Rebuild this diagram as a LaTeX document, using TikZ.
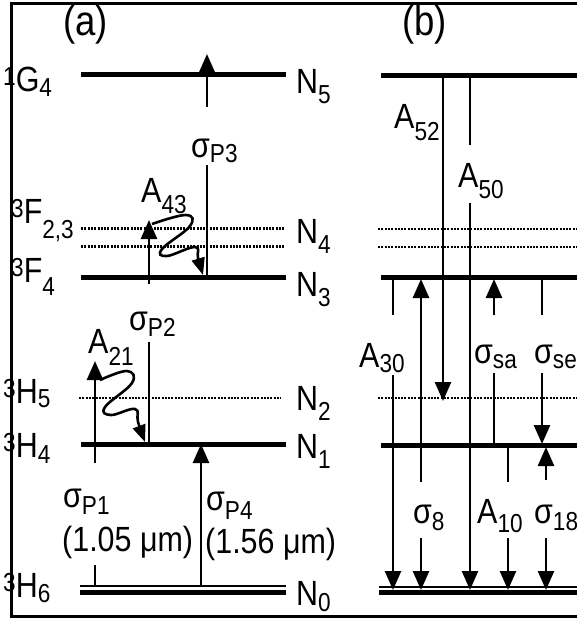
\documentclass[tikz,border=0pt]{standalone}
\usepackage{fontspec}
\setmainfont{Liberation Sans}[FakeStretch=0.87]
\usetikzlibrary{arrows.meta}
\newcommand{\hi}[1]{\raisebox{6pt}{\fontsize{26}{26}\selectfont #1}}
\newcommand{\lo}[2][6pt]{\raisebox{-#1}{\fontsize{26}{26}\selectfont #2}}

\begin{document}
\begin{tikzpicture}[x=1pt, y=-1pt,
  level/.style={line width=5pt},
  sublevel/.style={line width=2.4pt, dash pattern=on 2pt off 1.3pt},
  thinlevel/.style={line width=2pt},
  frame/.style={line width=3pt},
  trans/.style={line width=2.6pt},
  arrow/.style={trans, -{Triangle[length=19pt, width=16pt]}},
  wave/.style={line width=2.6pt, -{Triangle[length=17pt, width=13pt]}},
  lbl/.style={anchor=base west, inner sep=0pt, font=\fontsize{35}{40}\selectfont},
  panel/.style={lbl, font=\fontsize{42}{46}\selectfont},
]
  \useasboundingbox (0,0) rectangle (577,619);
  \clip (0,0) rectangle (577,619);
  \draw[frame] (600,3.5) -| (11.5,616.5) -- (600,616.5);

  \draw[level] (81,74.5) -- (286,74.5);
  \draw[sublevel] (81,228.5) -- (284,228.5);
  \draw[sublevel] (81,246.5) -- (284,246.5);
  \draw[level] (81,277) -- (286,277);
  \draw[sublevel] (79,398) -- (281,398);
  \draw[level] (81,444.5) -- (286,444.5);
  \draw[thinlevel] (80,586) -- (286,586);
  \draw[level] (80,592) -- (286,592);

  \draw[level] (381,75.5) -- (600,75.5);
  \draw[sublevel] (378,229) -- (600,229);
  \draw[sublevel] (378,247) -- (600,247);
  \draw[level] (381,277.5) -- (600,277.5);
  \draw[sublevel] (378,398) -- (600,398);
  \draw[level] (381,445.5) -- (600,445.5);
  \draw[thinlevel] (379,586.5) -- (600,586.5);
  \draw[level] (379,592.5) -- (600,592.5);

  \foreach \n/\x/\y in {p3a/207/277, p3b/207/165, p3c/207/107, p3d/207/54,
      t43a/149/284, t43b/149/220, w43a/152/224, w43b/203/275,
      p2a/149/342, p2b/149/444, t21a/95/463, t21b/95/361,
      w21a/100/380, w21b/145/442, p1a/95/565, p1b/95/587,
      p4a/201/587, p4b/201/444}
    \coordinate (\n) at (\x,\y);
  \foreach \n/\x/\y in {t30a/393/277, t30b/393/315, t30c/393/375, t30d/393/590,
      s8a/421/482, s8b/421/279, s8c/421/538, s8d/421/590,
      t52a/443/76, t52b/443/401,
      t50a/470/76, t50b/470/145, t50c/470/203, t50d/470/590,
      saa/494/315, sab/494/279, sac/494/373, sad/494/444,
      sea/542/277, seb/542/315, sec/542/373, sed/542/444,
      t10a/508/444, t10b/508/482, t10c/508/538, t10d/508/590,
      s18a/546/480, s18b/546/447, s18c/546/538, s18d/546/590}
    \coordinate (\n) at (\x,\y);

  \node[panel] (pa) at (63,35) {(a)};
  \node[panel] (pb) at (402,35) {(b)};

  \node[lbl] (G4) at (3,91) {\hi{1}G\lo[5pt]{4}};
  \node[lbl] (F23) at (11,223) {\hi{3}F\lo[15pt]{2,3}};
  \node[lbl] (F4) at (11,282) {\hi{3}F\lo[13pt]{4}};
  \node[lbl] (H5) at (3,403) {\hi{3}H\lo[4pt]{5}};
  \node[lbl] (H4) at (3,457) {\hi{3}H\lo[6pt]{4}};
  \node[lbl] (H6) at (3,597) {\hi{3}H\lo[5pt]{6}};

  \node[lbl] (N5) at (296,93) {N\lo[10pt]{5}};
  \node[lbl] (N4) at (296,243) {N\lo[10pt]{4}};
  \node[lbl] (N3) at (296,296) {N\lo[10pt]{3}};
  \node[lbl] (N2) at (296,410) {N\lo[10pt]{2}};
  \node[lbl] (N1) at (296,458) {N\lo[10pt]{1}};
  \node[lbl] (N0) at (296,605) {N\lo[6pt]{0}};

  \node[lbl] (sP3) at (191,157) {σ\lo[5pt]{P3}};
  \node[lbl] (A43) at (141,202) {A\lo[11pt]{43}};
  \node[lbl] (sP2) at (129,330) {σ\lo[6pt]{P2}};
  \node[lbl] (A21) at (88,353) {A\lo[12pt]{21}};
  \node[lbl] (sP1) at (63,507) {σ\lo[7pt]{P1}};
  \node[lbl] (lam1) at (62,551) {(1.05 μm)};
  \node[lbl] (sP4) at (206,510) {σ\lo[9pt]{P4}};
  \node[lbl] (lam4) at (205,553) {(1.56 μm)};

  \node[lbl] (A52) at (394,128) {A\lo[12pt]{52}};
  \node[lbl] (A50) at (458,187) {A\lo[11pt]{50}};
  \node[lbl] (A30) at (359,367) {A\lo[5pt]{30}};
  \node[lbl] (ssa) at (474,363) {σ\lo[5pt]{sa}};
  \node[lbl] (sse) at (534,363) {σ\lo[5pt]{se}};
  \node[lbl] (s8) at (413,523) {σ\lo[7pt]{8}};
  \node[lbl] (A10) at (477,523) {A\lo[9pt]{10}};
  \node[lbl] (s18) at (534,523) {σ\lo[7pt]{18}};

  \draw[trans] (p3a) -- (p3b);
  \draw[arrow] (p3c) -- (p3d);
  \draw[arrow] (t43a) -- (t43b);
  \draw[wave] plot[smooth, tension=0.7] coordinates {(w43a) (186,215) (190,226)
    (162,249) (167,256) (195,247) (198,258) (w43b)};
  \draw[trans] (p2a) -- (p2b);
  \draw[arrow] (t21a) -- (t21b);
  \draw[wave] plot[smooth, tension=0.7] coordinates {(w21a) (127,371) (132,383)
    (105,407) (111,415) (135,409) (138,422) (w21b)};
  \draw[trans] (p1a) -- (p1b);
  \draw[arrow] (p4a) -- (p4b);

  \draw[trans] (t30a) -- (t30b);
  \draw[arrow] (t30c) -- (t30d);
  \draw[arrow] (s8a) -- (s8b);
  \draw[arrow] (s8c) -- (s8d);
  \draw[arrow] (t52a) -- (t52b);
  \draw[trans] (t50a) -- (t50b);
  \draw[arrow] (t50c) -- (t50d);
  \draw[arrow] (saa) -- (sab);
  \draw[trans] (sac) -- (sad);
  \draw[trans] (sea) -- (seb);
  \draw[arrow] (sec) -- (sed);
  \draw[trans] (t10a) -- (t10b);
  \draw[arrow] (t10c) -- (t10d);
  \draw[arrow] (s18a) -- (s18b);
  \draw[arrow] (s18c) -- (s18d);
\end{tikzpicture}
\end{document}
